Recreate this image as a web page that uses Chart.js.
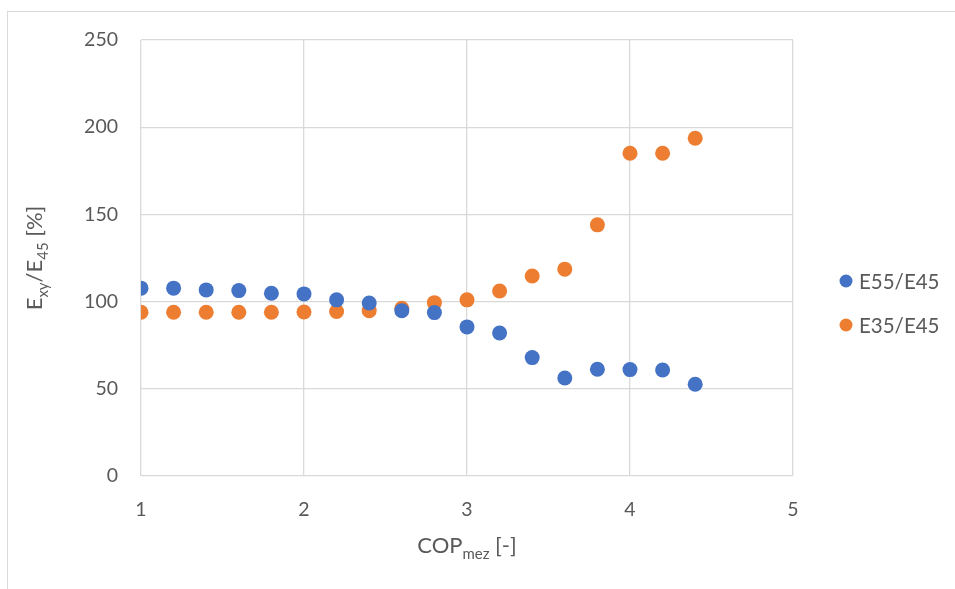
<!DOCTYPE html>
<html>
<head>
<meta charset="utf-8">
<script src="https://cdn.jsdelivr.net/npm/chart.js@4/dist/chart.umd.min.js"></script>
<style>
    html, body { margin: 0; padding: 0; background: #fff; overflow: hidden; }
    #frame { position: absolute; left: 7px; top: 11px; width: 1000px; height: 700px; border: 1px solid #d9d9d9; }
    #wrap { position: absolute; left: 0; top: 0; width: 955px; height: 589px; }
</style>
</head>
<body>
<div id="frame"></div>
<div id="wrap"><canvas id="chart_cop"></canvas></div>
<script>
const COP = [1, 1.2, 1.4, 1.6, 1.8, 2, 2.2, 2.4, 2.6, 2.8, 3, 3.2, 3.4, 3.6, 3.8, 4, 4.2, 4.4];
const E55_E45 = [107.7, 107.7, 106.7, 106.3, 104.8, 104.4, 101, 99.2, 94.8, 93.7, 85.5, 82, 67.9, 56.2, 61.2, 61, 60.8, 52.6];
const E35_E45 = [93.9, 93.9, 93.9, 93.9, 93.9, 94, 94.3, 94.8, 96.2, 99.4, 101, 106.1, 114.7, 118.6, 144, 185.1, 185.1, 193.7];
const SERIES_NAMES = ['E55/E45', 'E35/E45'];
const SERIES_COLORS = ['#4472C4', '#ED7D31'];
const X_TICKS = [1, 2, 3, 4, 5];
const Y_TICKS = [0, 50, 100, 150, 200, 250];

const FONT = 'Lato, "Open Sans", sans-serif';
const TEXT = '#595959';

function pairs(xs, ys) {
    return xs.map(function (x, i) { return { x: x, y: ys[i] }; });
}

// draws text pieces with subscripts, centred on x
function drawRich(ctx, parts, x, y, size) {
    var total = 0;
    parts.forEach(function (p) {
        ctx.font = (p.sub ? size * 0.68 : size) + 'px ' + FONT;
        total += ctx.measureText(p.t).width;
    });
    var cx = x - total / 2;
    parts.forEach(function (p) {
        ctx.font = (p.sub ? size * 0.68 : size) + 'px ' + FONT;
        ctx.fillText(p.t, cx, p.sub ? y + size * 0.38 : y);
        cx += ctx.measureText(p.t).width;
    });
}

const extras = {
    id: 'extras',
    afterDraw(chart) {
        var ctx = chart.ctx;
        var area = chart.chartArea;
        ctx.save();
        ctx.fillStyle = TEXT;
        ctx.textBaseline = 'middle';
        ctx.textAlign = 'left';

        // x title
        drawRich(ctx, [{ t: 'COP' }, { t: 'mez', sub: true }, { t: ' [-]' }],
            (area.left + area.right) / 2, 546, 22);

        // y title, rotated
        ctx.save();
        ctx.translate(35, (area.top + area.bottom) / 2);
        ctx.rotate(-Math.PI / 2);
        drawRich(ctx, [{ t: 'E' }, { t: 'xy', sub: true }, { t: '/E' }, { t: '45', sub: true }, { t: ' [%]' }], 0, 0, 22);
        ctx.restore();

        // legend
        ctx.font = '20.5px ' + FONT;
        chart.data.datasets.forEach(function (ds, i) {
            var ly = 281 + i * 44;
            ctx.beginPath();
            ctx.fillStyle = ds.backgroundColor;
            ctx.arc(846, ly, 6.5, 0, Math.PI * 2);
            ctx.fill();
            ctx.fillStyle = TEXT;
            ctx.fillText(ds.label, 859, ly + 1);
        });
        ctx.restore();
    }
};

var ctx = document.getElementById('chart_cop');
var copChart = new Chart(ctx, {
    type: 'scatter',
    data: {
        datasets: [
            {
                label: SERIES_NAMES[0],
                data: pairs(COP, E55_E45),
                backgroundColor: SERIES_COLORS[0],
                borderWidth: 0,
                pointRadius: 7.5
            },
            {
                label: SERIES_NAMES[1],
                data: pairs(COP, E35_E45),
                backgroundColor: SERIES_COLORS[1],
                borderWidth: 0,
                pointRadius: 7.5
            }
        ]
    },
    options: {
        responsive: true,
        maintainAspectRatio: false,
        animation: false,
        layout: { padding: { left: 0, top: 40, right: 162, bottom: 0 } },
        plugins: {
            legend: { display: false },
            tooltip: { enabled: false }
        },
        scales: {
            x: {
                type: 'linear',
                min: X_TICKS[0],
                max: X_TICKS[X_TICKS.length - 1],
                afterBuildTicks: function (scale) { scale.ticks = X_TICKS.map(function (v) { return { value: v }; }); },
                afterFit: function (scale) { scale.height = 113; },
                grid: { color: '#d9d9d9', lineWidth: 1.3, drawTicks: false },
                border: { display: false },
                ticks: { color: TEXT, font: { family: FONT, size: 19.5 }, padding: 22 }
            },
            y: {
                min: Y_TICKS[0],
                max: Y_TICKS[Y_TICKS.length - 1],
                afterBuildTicks: function (scale) { scale.ticks = Y_TICKS.map(function (v) { return { value: v }; }); },
                afterFit: function (scale) { scale.width = 141; },
                grid: { color: '#d9d9d9', lineWidth: 1.3, drawTicks: false },
                border: { display: false },
                ticks: { color: TEXT, font: { family: FONT, size: 19.5 }, padding: 23 }
            }
        }
    },
    plugins: [extras]
});
</script>
</body>
</html>
